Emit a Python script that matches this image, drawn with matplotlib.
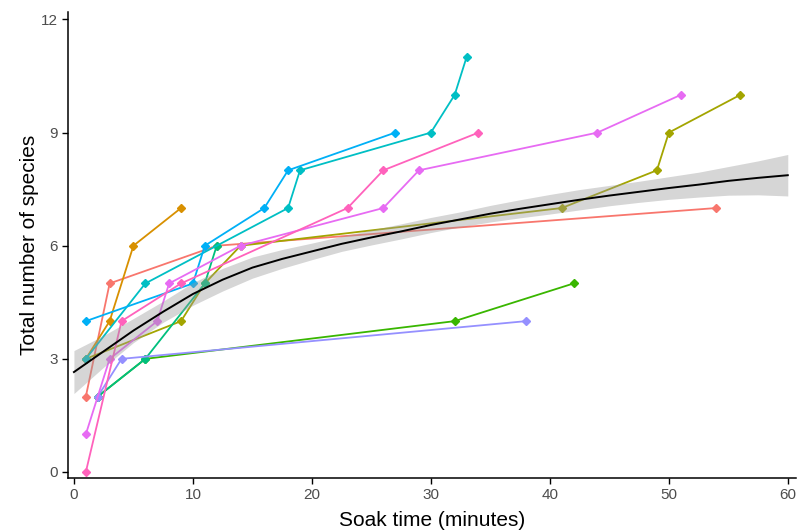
import matplotlib

matplotlib.use("Agg")
import matplotlib.pyplot as plt
import numpy as np

# cumulative species per soak, one series per deployment
red_x = [1, 3, 12, 54]
red_y = [2, 5, 6, 7]
orange_x = [1, 3, 5, 9]
orange_y = [3, 4, 6, 7]
olive_x = [1, 9, 11, 14, 41, 49, 50, 56]
olive_y = [3, 4, 5, 6, 7, 8, 9, 10]
green_x = [2, 6, 32, 42]
green_y = [2, 3, 4, 5]
tealgreen_x = [2, 6, 11, 12]
tealgreen_y = [2, 3, 5, 6]
teal_x = [1, 6, 18, 19, 30, 32, 33]
teal_y = [3, 5, 7, 8, 9, 10, 11]
blue_x = [1, 10, 11, 16, 18, 27]
blue_y = [4, 5, 6, 7, 8, 9]
purple_x = [2, 4, 38]
purple_y = [2, 3, 4]
magenta_x = [1, 3, 7, 8, 14, 26, 29, 44, 51]
magenta_y = [1, 3, 4, 5, 6, 7, 8, 9, 10]
pink_x = [1, 4, 9, 23, 26, 34]
pink_y = [0, 4, 5, 7, 8, 9]

# smoother + confidence band, read at 2.5 min steps
smooth_x = [0, 2.5, 5, 7.5, 10, 12.5, 15, 17.5, 20, 22.5, 25, 27.5, 30,
            32.5, 35, 37.5, 40, 42.5, 45, 47.5, 50, 52.5, 55, 57.5, 60]
smooth_y = [2.65, 3.2, 3.75, 4.25, 4.72, 5.1, 5.42, 5.65, 5.85, 6.05, 6.22, 6.38, 6.55,
            6.7, 6.85, 6.98, 7.1, 7.22, 7.33, 7.43, 7.53, 7.62, 7.72, 7.8, 7.87]
smooth_se = [0.57, 0.42, 0.32, 0.28, 0.3, 0.3, 0.28, 0.25, 0.22, 0.2, 0.2, 0.2, 0.2,
             0.2, 0.22, 0.24, 0.26, 0.27, 0.27, 0.28, 0.3, 0.33, 0.38, 0.45, 0.55]

SERIES = [
    (red_x, red_y, "#F8766D"),
    (orange_x, orange_y, "#D89000"),
    (olive_x, olive_y, "#A3A500"),
    (green_x, green_y, "#39B600"),
    (tealgreen_x, tealgreen_y, "#00BF7D"),
    (teal_x, teal_y, "#00BFC4"),
    (blue_x, blue_y, "#00B0F6"),
    (purple_x, purple_y, "#9590FF"),
    (magenta_x, magenta_y, "#E76BF3"),
    (pink_x, pink_y, "#FF62BC"),
]

plt.rcParams["font.family"] = ["Liberation Sans", "DejaVu Sans"]

fig = plt.figure(figsize=(7.98, 5.31), dpi=100)
ax = fig.add_axes([0.0852, 0.0998, 0.912, 0.877])

for xs, ys, col in SERIES:
    ax.plot(xs, ys, color=col, lw=1.3, marker="D", ms=3.6, zorder=2)

sx = np.array(smooth_x)
sy = np.array(smooth_y)
se = np.array(smooth_se)
ax.fill_between(sx, sy - se, sy + se, color="#999999", alpha=0.4, lw=0, zorder=3)
ax.plot(sx, sy, color="black", lw=1.4, zorder=4)

ax.set_xlim(-0.5, 60.67)
ax.set_ylim(-0.16, 12.19)
ax.set_xticks([0, 10, 20, 30, 40, 50, 60])
ax.set_yticks([0, 3, 6, 9, 12])
for s in ("top", "right"):
    ax.spines[s].set_visible(False)
for s in ("left", "bottom"):
    ax.spines[s].set_linewidth(1.1)
ax.tick_params(length=4, width=1.0, colors="black", labelcolor="#4D4D4D", labelsize=11)
ax.set_xlabel("Soak time (minutes)", fontsize=15, labelpad=6)
ax.set_ylabel("Total number of species", fontsize=15, labelpad=1)

fig.savefig("out.png", dpi=100)
